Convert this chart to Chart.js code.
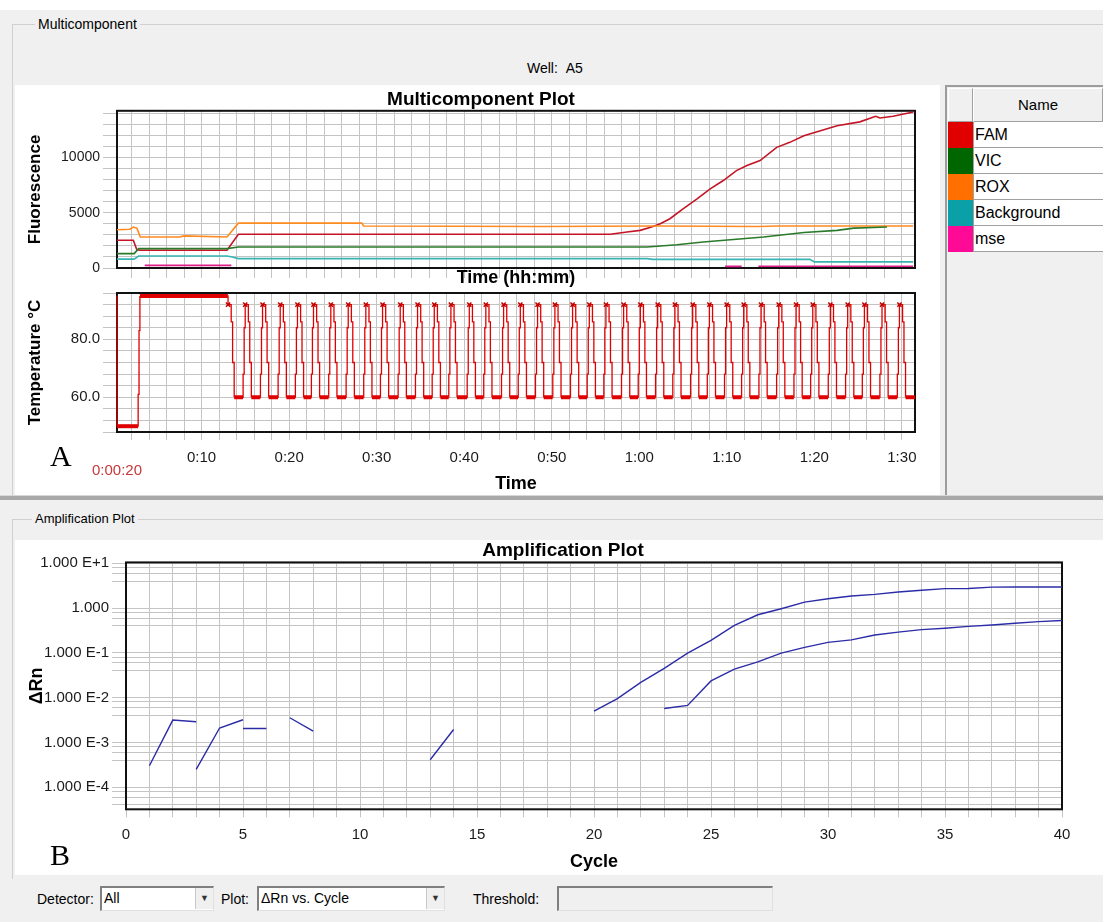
<!DOCTYPE html>
<html>
<head>
<meta charset="utf-8">
<title>Multicomponent / Amplification Plot</title>
<script src="https://cdn.jsdelivr.net/npm/chart.js@4.4.1/dist/chart.umd.min.js"></script>
<style>
  html, body { margin: 0; padding: 0; }
  body { width: 1103px; height: 922px; overflow: hidden; position: relative; background: #fff;
         font-family: "Liberation Sans", Arial, sans-serif; font-size: 14px; color: #000; }
  .box { position: absolute; box-sizing: border-box; }
  .gray { background: #f0f0f0; }
  .white { background: #fff; }
  canvas { position: absolute; }
  .txt { position: absolute; white-space: nowrap; line-height: 16px; }
  .hdr { background: #f0f0f0; border-top: 1px solid #fff; border-left: 1px solid #fff;
         border-right: 1px solid #a0a0a0; border-bottom: 1px solid #a0a0a0;
         text-align: center; line-height: 32px; font-size: 15px; }
  .row { position: absolute; left: 948px; width: 155px; height: 26px; display: flex; }
  .row .sw { width: 25px; height: 26px; }
  .row .nm { flex: 1; background: #fff; border-left: 1px solid #a0a0a0; border-bottom: 1px solid #a0a0a0;
             padding-left: 1px; line-height: 26px; font-size: 16px; box-sizing: border-box; }
  .combo { position: absolute; top: 886px; height: 25px; background: #fff; box-sizing: border-box;
           border-top: 2px solid #808080; border-left: 2px solid #808080;
           border-right: 1px solid #e0e0e0; border-bottom: 1px solid #e0e0e0;
           line-height: 21px; padding-left: 2px; font-size: 14px; }
  .combo i { position: absolute; right: 0; top: 0; width: 17px; height: 21px; background: #f0f0f0;
             border-left: 1px solid #c8c8c8; font-style: normal; font-size: 9px; text-align: center; color: #333; }
  .serif { position: absolute; font-family: "Liberation Serif", "Times New Roman", serif; font-size: 30px; line-height: 30px; }
</style>
</head>
<body>
<!-- upper panel -->
<div class="box gray" style="left:0;top:10px;width:1103px;height:487px"></div>
<div class="box" style="left:12px;top:24px;width:1091px;height:472px;border-top:1px solid #d0d0d0;border-left:1px solid #d0d0d0"></div>
<div class="txt gray" style="left:35px;top:16px;padding:0 3px">Multicomponent</div>
<div class="txt" style="left:527px;top:60px">Well:&nbsp;&nbsp;A5</div>
<div class="box white" style="left:15px;top:85px;width:925px;height:410px"></div>

<!-- legend table -->
<div class="box" style="left:945px;top:85px;width:158px;height:411px;background:#f0f0f0;border-left:2px solid #9c9c9c;border-top:2px solid #9c9c9c"></div>
<div class="box hdr" style="left:948px;top:88px;width:25px;height:34px"></div>
<div class="box hdr" style="left:973px;top:88px;width:130px;height:34px">Name</div>
<div class="row" style="top:122px"><div class="sw" style="background:#e00000"></div><div class="nm">FAM</div></div>
<div class="row" style="top:148px"><div class="sw" style="background:#006600"></div><div class="nm">VIC</div></div>
<div class="row" style="top:174px"><div class="sw" style="background:#ff7000"></div><div class="nm">ROX</div></div>
<div class="row" style="top:200px"><div class="sw" style="background:#0aa0a8"></div><div class="nm">Background</div></div>
<div class="row" style="top:226px"><div class="sw" style="background:#ff0a96"></div><div class="nm">mse</div></div>

<!-- separator + lower panel -->
<div class="box" style="left:0;top:495px;width:1103px;height:5px;background:#a8a8a8;border-top:1px solid #d8d8d8"></div>
<div class="box gray" style="left:0;top:500px;width:1103px;height:422px"></div>
<div class="box" style="left:12px;top:519px;width:1091px;height:360px;border-top:1px solid #d0d0d0;border-left:1px solid #d0d0d0"></div>
<div class="txt gray" style="left:32px;top:511px;padding:0 3px;font-size:13px">Amplification Plot</div>
<div class="box white" style="left:15px;top:540px;width:1088px;height:335px"></div>

<canvas id="mc" width="932" height="210" style="left:15px;top:80px"></canvas>
<canvas id="temp" width="932" height="215" style="left:15px;top:285px"></canvas>
<canvas id="amp" width="1096" height="340" style="left:15px;top:535px"></canvas>

<div class="serif" style="left:50px;top:441px">A</div>
<div class="txt" style="left:92px;top:462px;color:#c83838;font-size:15px">0:00:20</div>
<div class="serif" style="left:50px;top:840px">B</div>

<!-- bottom controls -->
<div class="txt" style="left:37px;top:891px">Detector:</div>
<div class="combo" style="left:100px;width:114px">All<i>▼</i></div>
<div class="txt" style="left:221px;top:891px">Plot:</div>
<div class="combo" style="left:257px;width:188px">ΔRn vs. Cycle<i>▼</i></div>
<div class="txt" style="left:473px;top:891px">Threshold:</div>
<div class="combo" style="left:557px;width:216px;background:#f0f0f0"></div>

<script>
// ---------- multicomponent, x in minutes ----------
const famTime  = [0.33, 2.2, 2.6, 3.0, 12.9, 14.2, 56.7, 58.6, 60.1, 61.4, 62.4, 63.5, 65.0, 66.6, 68.1,
                  69.6, 71.1, 72.3, 73.8, 75.7, 77.2, 78.8, 80.7, 82.6, 85.2, 87.0, 87.5, 89.0, 91.3];
const famValue = [2500, 2500, 1650, 1600, 1600, 3050, 3050, 3250, 3400, 3700, 4000, 4450, 5350, 6250, 7150,
                  7900, 8800, 9250, 9700, 10900, 11350, 11950, 12400, 12850, 13200, 13700, 13550, 13700, 14100];

const vicTime  = [0.33, 2.3, 2.8, 12.9, 14.2, 60.9, 64.3, 67.3, 71.1, 74.2, 76.5, 78.8, 82.6, 84.5, 88.3];
const vicValue = [1300, 1300, 1750, 1750, 1900, 1900, 2100, 2350, 2600, 2800, 3000, 3200, 3400, 3600, 3700];

const roxTime  = [0.33, 1.8, 2.2, 2.6, 3.0, 7.5, 8.0, 12.9, 14.2, 28.3, 28.5, 48.9, 62.0, 73.5, 76.0, 91.3];
const roxValue = [3450, 3500, 3700, 3600, 2800, 2800, 2900, 2800, 4050, 4050, 3800, 3750, 3800, 3750, 3800, 3800];

const bgTime   = [0.33, 2.3, 2.8, 12.9, 13.5, 14.2, 60.9, 61.5, 79.5, 80.0, 91.3];
const bgValue  = [800, 800, 1080, 1080, 1000, 850, 850, 780, 780, 550, 550];

const mseTime  = [3.5, 13.4, 13.5, 69.8, 71.7, 71.8, 73.6, 91.3];
const mseValue = [240, 240, null, 150, 150, null, 160, 160];

const fluorLabels = [0, 5000, 10000];
const minuteLabels = [10, 20, 30, 40, 50, 60, 70, 80, 90];

// ---------- temperature run ----------
const holdTime = [0.33, 0.34, 2.74, 2.75, 2.85, 2.95, 13.0];
const holdTemp = [95, 50, 50, 61, 83, 95, 95];
// centre of each denaturation peak (minutes), 40 cycles
const cyclePeak = [13.30, 15.26, 17.24, 19.26, 21.23, 23.06, 25.04, 27.03, 29.04, 30.95,
                   32.97, 34.95, 36.86, 38.76, 40.86, 42.75, 44.78, 46.69, 48.66, 50.64,
                   52.66, 54.57, 56.47, 58.49, 60.40, 62.38, 64.35, 66.38, 68.29, 70.26,
                   72.21, 74.19, 76.21, 78.19, 80.10, 82.11, 84.09, 86.00, 88.01, 90.00];
// sampled steps of one cycle, relative to its peak
const stepOffset = [-0.53, -0.52, -0.40, -0.28, 0.08, 0.24, 0.42];
const stepTemp   = [60, 68, 84, 92, 86, 72, 60];
const runStart = 1 / 3, runEnd = 91.5;
const tempLabels = [60, 80];

// ---------- amplification ----------
const cycles = [1, 2, 3, 4, 5, 6, 7, 8, 9, 10, 11, 12, 13, 14, 15, 16, 17, 18, 19, 20,
                21, 22, 23, 24, 25, 26, 27, 28, 29, 30, 31, 32, 33, 34, 35, 36, 37, 38, 39, 40];
const rnLow  = [3.0e-4, 3.15e-3, 2.9e-3, null, 2.05e-3, 2.05e-3, null, null, null, null,
                null, null, null, null, null, null, null, null, null, null,
                null, null, 5.7e-3, 6.7e-3, 0.0236, 0.0434, 0.063, 0.099, 0.133, 0.172,
                0.195, 0.25, 0.29, 0.33, 0.355, 0.39, 0.42, 0.46, 0.50, 0.53];
const rnHigh = [null, null, 2.5e-4, 2.1e-3, 3.2e-3, null, 3.55e-3, 1.78e-3, null, null,
                null, null, 4.1e-4, 1.94e-3, null, null, null, null, null, 5.0e-3,
                9.5e-3, 0.022, 0.045, 0.099, 0.19, 0.41, 0.71, 0.97, 1.36, 1.62,
                1.86, 2.03, 2.29, 2.5, 2.72, 2.75, 2.95, 2.97, 2.97, 2.97];
const ampGridTicks = [4e-5, 6e-5, 8e-5, 1e-4, 4e-4, 6e-4, 8e-4, 1e-3, 4e-3, 6e-3, 8e-3, 1e-2,
                      0.04, 0.06, 0.08, 0.1, 0.4, 0.6, 0.8, 1, 4, 6, 8, 10];
const cycleLabels = [0, 5, 10, 15, 20, 25, 30, 35, 40];

Chart.defaults.font.family = '"Liberation Sans", Arial, sans-serif';
Chart.defaults.color = '#1a1a1a';

const GRID = '#c4c4c4';

const frame = {
  id: 'frame',
  beforeDatasetsDraw(chart) {
    const { ctx, chartArea: a } = chart;
    ctx.save();
    ctx.strokeStyle = '#111';
    ctx.lineWidth = 2;
    ctx.strokeRect(a.left, a.top, a.right - a.left, a.bottom - a.top);
    ctx.restore();
  }
};

// gridline positions
const range = (a, b, step) => {
  const out = [];
  for (let v = a; v <= b + 1e-9; v += step) out.push(+v.toFixed(6));
  return out;
};
const setTicks = list => s => { s.ticks = list.map(v => ({ value: v })); };

const pad0 = s => { s.paddingLeft = s.paddingRight = s.paddingTop = s.paddingBottom = 0; };
const fixW = w => s => { s.width = w; pad0(s); };
const fixH = h => s => { s.height = h; pad0(s); };
const spacer = w => ({
  position: 'right', grid: { display: false, drawTicks: false }, border: { display: false },
  ticks: { display: false }, afterFit: fixW(w)
});
const hhmm = v => Math.floor(v / 60) + ':' + String(Math.round(v % 60)).padStart(2, '0');
const near = (list, v) => list.some(l => Math.abs(l - v) < 1e-6);

function series(label, times, values, color) {
  return {
    label, borderColor: color, borderWidth: 1.6, pointRadius: 0, tension: 0, fill: false,
    data: times.map((t, i) => ({ x: t, y: values[i] }))
  };
}

function tempProfile() {
  const pts = holdTime.map((t, i) => ({ x: t, y: holdTemp[i] }));
  const holdEnd = holdTime[holdTime.length - 1];
  cyclePeak.forEach(c => {
    stepOffset.forEach((o, i) => {
      const t = +(c + o).toFixed(3);
      if (t > holdEnd) pts.push({ x: t, y: stepTemp[i] });
    });
  });
  pts.push({ x: runEnd, y: stepTemp[stepTemp.length - 1] });
  return pts;
}

const base = { responsive: false, animation: false, events: [] };

new Chart(document.getElementById('mc'), {
  type: 'line',
  data: {
    datasets: [
      series('mse', mseTime, mseValue, '#e0208a'),
      series('Background', bgTime, bgValue, '#38b4b4'),
      series('VIC', vicTime, vicValue, '#2a7a2a'),
      series('ROX', roxTime, roxValue, '#ff8a20'),
      series('FAM', famTime, famValue, '#c41426')
    ]
  },
  options: {
    ...base,
    layout: { padding: 0 },
    plugins: {
      legend: { display: false }, tooltip: { enabled: false },
      title: { display: true, text: 'Multicomponent Plot', color: '#000',
               font: { size: 19, weight: 'bold' }, padding: { top: 8, bottom: 0 } }
    },
    scales: {
      x: {
        type: 'linear', min: runStart, max: runEnd,
        afterBuildTicks: setTicks(range(2, 90, 2)),
        ticks: { display: false, autoSkip: false },
        grid: { color: GRID, tickLength: 10 }, border: { display: false },
        title: { display: true, text: 'Time (hh:mm)', color: '#000',
                 font: { size: 18, weight: 'bold' }, padding: { top: 0, bottom: 1 } },
        afterFit: fixH(22)
      },
      y: {
        type: 'linear', min: 0, max: 14200,
        afterBuildTicks: setTicks(range(0, 14000, 1000)),
        ticks: { autoSkip: false, padding: 3, font: { size: 14 },
                 callback: v => (near(fluorLabels, v) ? String(Math.round(v)) : '') },
        grid: { color: GRID, tickLength: 14 }, border: { display: false },
        title: { display: true, text: 'Fluorescence', color: '#000',
                 font: { size: 17, weight: 'bold' }, padding: { top: 10, bottom: 0 } },
        afterFit: fixW(102)
      },
      yR: spacer(32)
    }
  },
  plugins: [frame]
});

new Chart(document.getElementById('temp'), {
  type: 'line',
  data: {
    datasets: [{
      label: 'Temperature',
      data: tempProfile(),
      stepped: 'before',
      borderColor: '#e00000',
      borderWidth: 1.3,
      clip: 3,
      segment: { borderWidth: ctx => (ctx.p0.parsed.y === ctx.p1.parsed.y ? 4 : 1.3) },
      pointStyle: 'crossRot',
      pointRadius: ctx => (ctx.raw && ctx.raw.y === 92 ? 3 : 0),
      pointBorderColor: '#c00000',
      pointBorderWidth: 1.5
    }]
  },
  options: {
    ...base,
    layout: { padding: { top: 8 } },
    plugins: { legend: { display: false }, tooltip: { enabled: false } },
    scales: {
      x: {
        type: 'linear', min: runStart, max: runEnd,
        afterBuildTicks: setTicks(range(2, 90, 2)),
        ticks: { autoSkip: false, maxRotation: 0, padding: 9, font: { size: 15 },
                 callback: v => (near(minuteLabels, v) ? hhmm(v) : '') },
        grid: { color: GRID, tickLength: 8 }, border: { display: false },
        title: { display: true, text: 'Time', color: '#000',
                 font: { size: 18, weight: 'bold' }, padding: { top: 0, bottom: 5 } },
        afterFit: fixH(68)
      },
      y: {
        type: 'linear', min: 48, max: 96,
        afterBuildTicks: setTicks(range(48, 96, 4)),
        ticks: { autoSkip: false, padding: 3, font: { size: 15 },
                 callback: v => (near(tempLabels, v) ? v.toFixed(1) : '') },
        grid: { color: GRID, tickLength: 14 }, border: { display: false },
        title: { display: true, text: 'Temperature °C', color: '#000',
                 font: { size: 17, weight: 'bold' }, padding: { top: 10, bottom: 0 } },
        afterFit: fixW(102)
      },
      yR: spacer(32)
    }
  },
  plugins: [frame]
});

new Chart(document.getElementById('amp'), {
  type: 'line',
  data: {
    datasets: [
      { label: 'A5 low', data: cycles.map((c, i) => ({ x: c, y: rnLow[i] })),
        borderColor: '#2c2ca8', borderWidth: 1.4, pointRadius: 0, tension: 0 },
      { label: 'A5 high', data: cycles.map((c, i) => ({ x: c, y: rnHigh[i] })),
        borderColor: '#2c2ca8', borderWidth: 1.4, pointRadius: 0, tension: 0 }
    ]
  },
  options: {
    ...base,
    layout: { padding: 0 },
    plugins: {
      legend: { display: false }, tooltip: { enabled: false },
      title: { display: true, text: 'Amplification Plot', color: '#000',
               font: { size: 19, weight: 'bold' }, padding: { top: 4.6, bottom: 0 } }
    },
    scales: {
      x: {
        type: 'linear', min: 0, max: 40,
        afterBuildTicks: setTicks(range(0, 40, 1)),
        ticks: { autoSkip: false, maxRotation: 0, padding: 9, font: { size: 15 },
                 callback: v => (near(cycleLabels, v) ? String(Math.round(v)) : '') },
        grid: { color: GRID, tickLength: 8 }, border: { display: false },
        title: { display: true, text: 'Cycle', color: '#000',
                 font: { size: 18, weight: 'bold' }, padding: { top: 0, bottom: 2 } },
        afterFit: fixH(65.7)
      },
      y: {
        type: 'logarithmic', min: 3.2e-5, max: 10.5,
        afterBuildTicks: setTicks(ampGridTicks),
        ticks: {
          autoSkip: false, padding: 3, font: { size: 15 },
          callback: v => {
            const e = Math.log10(v);
            if (Math.abs(e - Math.round(e)) > 1e-6) return '';
            const n = Math.round(e);
            return n === 0 ? '1.000' : '1.000 E' + (n > 0 ? '+' : '') + n;
          }
        },
        grid: { color: GRID, tickLength: 14 }, border: { display: false },
        title: { display: true, text: 'ΔRn', color: '#000',
                 font: { size: 18, weight: 'bold' }, padding: { top: 11, bottom: 0 } },
        afterFit: fixW(111)
      },
      yR: spacer(49)
    }
  },
  plugins: [frame]
});
</script>
</body>
</html>
